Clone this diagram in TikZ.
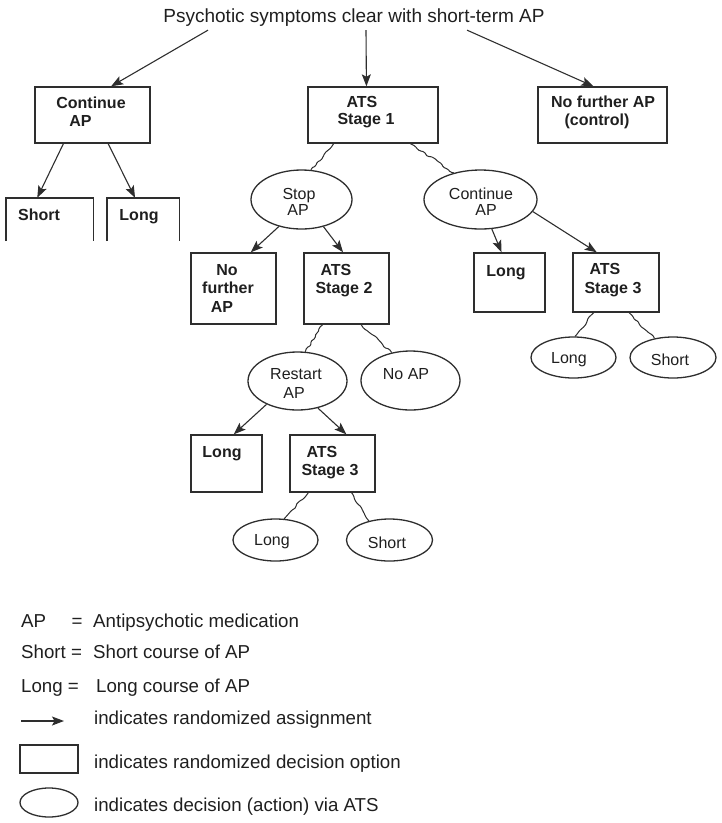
\documentclass[tikz,border=0pt]{standalone}
\usepackage{fontspec}
\setmainfont{Liberation Sans}
\usetikzlibrary{arrows.meta,calc,shapes.geometric,decorations.pathmorphing}
\definecolor{lc}{HTML}{2E2E2E}
\tikzset{
 bx/.style={draw=lc,line width=1.4pt,rectangle,inner sep=0pt},
 openbx/.style={rectangle,inner sep=0pt},
 el/.style={draw=lc,line width=1.3pt,ellipse,inner sep=0pt},
 bt/.style={font=\fontsize{16}{18}\selectfont\bfseries,inner sep=0pt,anchor=base,text=black!88},
 et/.style={font=\fontsize{16}{18}\selectfont,inner sep=0pt,anchor=base,text=black!88},
 lt/.style={font=\fontsize{18.7}{22}\selectfont,inner sep=0pt,anchor=base west,text=black!88},
 arr/.style={draw=lc,line width=1.1pt,-{Stealth[length=12pt,width=9pt,inset=2.5pt]}},
 wav/.style={draw=lc,line width=1pt,decorate,decoration={random steps,segment length=4pt,amplitude=1.4pt},rounded corners=1.3pt},
 edge3/.style={draw=lc,line width=1.4pt},
}
\begin{document}
\begin{tikzpicture}[x=1pt,y=-1pt]
\useasboundingbox (0,0) rectangle (722,823);
% title
\node[font=\fontsize{19}{22}\selectfont,inner sep=0pt,anchor=base,text=black!88] (t) at (354,22) {Psychotic symptoms clear with short-term AP};
% level 1 boxes
\node[bx,minimum width=115,minimum height=56] (ca) at (92.5,115) {};
\node[bx,minimum width=130,minimum height=56] (a1) at (373,115) {};
\node[bx,minimum width=129,minimum height=56] (nf) at (602.5,115) {};
\node[bt] (ca1) at (91,108) {Continue};
\node[bt] (ca2) at (80.5,126) {AP};
\node[bt] (a1a) at (362,107) {ATS};
\node[bt] (a1b) at (366,124) {Stage 1};
\node[bt] (nfa) at (603,107) {No further AP};
\node[bt] (nfb) at (597,125) {(control)};
% short / long (open bottom)
\node[openbx,minimum width=87,minimum height=43] (sh) at (49.5,219.5) {};
\node[openbx,minimum width=72,minimum height=43] (lg) at (143,219.5) {};
\draw[edge3] (sh.south west)--(sh.north west)--(sh.north east)--(sh.south east);
\draw[edge3] (lg.south west)--(lg.north west)--(lg.north east)--(lg.south east);
\node[bt] (sht) at (39,220) {Short};
\node[bt] (lgt) at (139,220) {Long};
% stage 1 ellipses
\node[el,minimum width=101,minimum height=59] (stop) at (301.5,199.5) {};
\node[el,minimum width=113,minimum height=59] (ce) at (480.5,199.5) {};
\node[et] (stopa) at (299,199) {Stop};
\node[et] (stopb) at (298,215) {AP};
\node[et] (cea) at (481,199) {Continue};
\node[et] (ceb) at (486,215) {AP};
% level 2 boxes
\node[bx,minimum width=85,minimum height=71] (nf2) at (233.5,288.5) {};
\node[bx,minimum width=85,minimum height=71] (a2) at (346.5,288.5) {};
\node[bx,minimum width=71,minimum height=59] (lr) at (509.5,282.5) {};
\node[bx,minimum width=86,minimum height=59] (a3r) at (616,282.5) {};
\node[bt] (nf2a) at (227,275) {No};
\node[bt] (nf2b) at (228,293) {further};
\node[bt] (nf2c) at (222,312) {AP};
\node[bt] (a2a) at (336,275) {ATS};
\node[bt] (a2b) at (344,293) {Stage 2};
\node[bt] (lrt) at (506,276) {Long};
\node[bt] (a3ra) at (605,274) {ATS};
\node[bt] (a3rb) at (613,293) {Stage 3};
% right ellipses
\node[el,minimum width=85,minimum height=41] (ler) at (573.5,357.5) {};
\node[el,minimum width=86,minimum height=41] (ser) at (673,357.5) {};
\node[et] (lert) at (569,363) {Long};
\node[et] (sert) at (670,365) {Short};
% restart / no AP
\node[el,minimum width=99,minimum height=58] (rs) at (297.5,381) {};
\node[el,minimum width=99,minimum height=59] (na) at (410.5,380.5) {};
\node[et] (rsa) at (296,379) {Restart};
\node[et] (rsb) at (294,398) {AP};
\node[et] (nat) at (406,379) {No AP};
% level 3 boxes
\node[bx,minimum width=71,minimum height=57] (l3) at (226.5,463.5) {};
\node[bx,minimum width=85,minimum height=57] (a3) at (332.5,463.5) {};
\node[bt] (l3t) at (222,457) {Long};
\node[bt] (a3a) at (322,457) {ATS};
\node[bt] (a3b) at (330,475) {Stage 3};
% bottom ellipses
\node[el,minimum width=85,minimum height=42] (le3) at (275.5,540) {};
\node[el,minimum width=86,minimum height=42] (se3) at (389.5,540) {};
\node[et] (le3t) at (272,545) {Long};
\node[et] (se3t) at (387,548) {Short};
% arrows (randomized)
\draw[arr] ($(t.south)+(-146,4)$) -- ($(ca.north west)!.66!(ca.north east)$);
\draw[arr] ($(t.south)+(12,4)$) -- ($(a1.north west)!.45!(a1.north east)$);
\draw[arr] ($(t.south)+(113,4)$) -- ($(nf.north west)!.43!(nf.north east)$);
\draw[arr] ($(ca.south west)!.25!(ca.south east)$) -- ($(sh.north west)!.36!(sh.north east)$);
\draw[arr] ($(ca.south west)!.635!(ca.south east)$) -- ($(lg.north west)!.39!(lg.north east)$);
\draw[arr] (stop.230) -- ($(nf2.north west)!.7!(nf2.north east)$);
\draw[arr] (stop.309) -- ($(a2.north west)!.46!(a2.north east)$);
\draw[arr] (ce.291) -- ($(lr.north west)!.39!(lr.north east)$);
\draw[arr] (ce.347) -- ($(a3r.north west)!.28!(a3r.north east)$);
\draw[arr] (rs.217) -- ($(l3.north west)!.6!(l3.north east)$);
\draw[arr] (rs.307) -- ($(a3.north west)!.66!(a3.north east)$);
% wavy (ATS decisions)
\draw[wav] ($(a1.south west)!.2!(a1.south east)$) -- (stop.72);
\draw[wav] ($(a1.south west)!.785!(a1.south east)$) -- (ce.135);
\draw[wav] ($(a2.south west)!.224!(a2.south east)$) -- (rs.75);
\draw[wav] ($(a2.south west)!.67!(a2.south east)$) -- (na.124);
\draw[wav] ($(a3r.south west)!.245!(a3r.south east)$) -- (ler.86);
\draw[wav] ($(a3r.south west)!.65!(a3r.south east)$) -- (ser.134);
\draw[wav] ($(a3.south west)!.22!(a3.south east)$) -- (le3.68);
\draw[wav] ($(a3.south west)!.72!(a3.south east)$) -- (se3.137);
% legend
\node[lt] (k1a) at (21,627.5) {AP};
\node[lt,anchor=base] (k1b) at (77,627.5) {=};
\node[lt] (k1c) at (93,627.5) {Antipsychotic medication};
\node[lt] (k2a) at (21,658.5) {Short =};
\node[lt] (k2b) at (93,658.5) {Short course of AP};
\node[lt] (k3a) at (21,692.5) {Long =};
\node[lt] (k3b) at (96,692.5) {Long course of AP};
\coordinate (la1) at (21,721);
\coordinate (la2) at (64,721);
\draw[arr] (la1) -- (la2);
\node[lt] (k4) at (94,724.5) {indicates randomized assignment};
\node[bx,minimum width=58,minimum height=28] (kr) at (49,759) {};
\node[lt] (k5) at (94,768.5) {indicates randomized decision option};
\node[el,minimum width=58,minimum height=29] (ke) at (49,802.5) {};
\node[lt] (k6) at (94,811.5) {indicates decision (action) via ATS};
\end{tikzpicture}
\end{document}
